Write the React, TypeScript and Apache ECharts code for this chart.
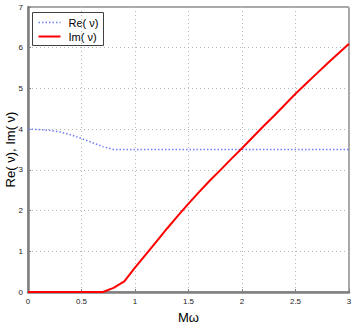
import React, { useEffect, useRef } from "react";
import * as echarts from "echarts";

const xRe = [0, 0.1, 0.2, 0.3, 0.4, 0.5, 0.6, 0.7, 0.8, 1.0, 1.5, 2.0, 2.5, 3.0];
const reValues = [4.0, 3.99, 3.97, 3.93, 3.86, 3.77, 3.67, 3.57, 3.5, 3.5, 3.5, 3.5, 3.5, 3.5];

const xIm = [0, 0.5, 0.7, 0.8, 0.9, 1.0, 1.1, 1.2, 1.3, 1.4, 1.5, 1.6, 1.7, 1.8, 1.9, 2.0, 2.1, 2.2, 2.3, 2.4, 2.5, 2.6, 2.7, 2.8, 2.9, 3.0];
const imValues = [0, 0, 0, 0.1, 0.26, 0.6, 0.92, 1.24, 1.56, 1.87, 2.17, 2.46, 2.74, 3.0, 3.27, 3.53, 3.8, 4.07, 4.33, 4.6, 4.87, 5.12, 5.37, 5.62, 5.86, 6.1];

const seriesNames = ["Re(\u00a0ν)", "Im(\u00a0ν)"];
const xLabel = "Mω";
const yLabel = "Re(\u00a0ν), Im(\u00a0ν)";

const FONT = "Liberation Sans, Arial, sans-serif";
const RE_COLOR = "#6f7ff5";
const IM_COLOR = "#ff0000";

export default function App() {
  const ref = useRef<HTMLDivElement>(null);
  useEffect(() => {
    if (!ref.current) return;
    const chart = echarts.init(ref.current, null, { renderer: "svg" });
    const gridLine = { show: true, lineStyle: { color: "#b4b4b4", width: 1, type: [1, 3] } };
    chart.setOption({
      animation: false,
      backgroundColor: "#ffffff",
      textStyle: { fontFamily: FONT },
      grid: {
        left: 28,
        right: 5,
        top: 7,
        bottom: 35,
        containLabel: false,
        outerBoundsMode: "none",
        show: true,
        borderColor: "#505050",
        borderWidth: 1,
        backgroundColor: "transparent",
      },
      graphic: [
        {
          type: "group",
          left: 32,
          top: 12,
          z: 100,
          children: [
            { type: "rect", shape: { x: 0, y: 0, width: 71, height: 33 }, style: { fill: "#fff", stroke: "#404040", lineWidth: 1 } },
            { type: "line", shape: { x1: 6, y1: 10, x2: 28, y2: 10 }, style: { stroke: RE_COLOR, lineWidth: 1.5, lineDash: [1.5, 2] } },
            { type: "text", x: 36, y: 10, style: { text: seriesNames[0], fontFamily: FONT, fontSize: 11, fill: "#000", verticalAlign: "middle" } },
            { type: "line", shape: { x1: 6, y1: 24, x2: 28, y2: 24 }, style: { stroke: IM_COLOR, lineWidth: 2 } },
            { type: "text", x: 36, y: 24, style: { text: seriesNames[1], fontFamily: FONT, fontSize: 11, fill: "#000", verticalAlign: "middle" } },
          ],
        },
      ],
      xAxis: {
        type: "value",
        min: 0,
        max: 3,
        interval: 0.5,
        name: xLabel,
        nameLocation: "middle",
        nameGap: 19,
        nameMoveOverlap: false,
        nameTextStyle: { fontFamily: FONT, fontSize: 13, color: "#000" },
        axisLine: { show: true, onZero: false, lineStyle: { color: "#808080", width: 2.5 } },
        axisTick: { show: true, inside: true, length: 3, lineStyle: { color: "#808080" } },
        axisLabel: { fontSize: 8, color: "#222", margin: 5, fontFamily: FONT },
        splitLine: gridLine,
      },
      yAxis: {
        type: "value",
        min: 0,
        max: 7,
        interval: 1,
        name: yLabel,
        nameLocation: "middle",
        nameGap: 11,
        nameMoveOverlap: false,
        nameTextStyle: { fontFamily: FONT, fontSize: 13, color: "#000" },
        axisLine: { show: true, onZero: false, lineStyle: { color: "#808080", width: 2.5 } },
        axisTick: { show: true, inside: true, length: 3, lineStyle: { color: "#808080" } },
        axisLabel: { fontSize: 8, color: "#222", margin: 5, fontFamily: FONT },
        splitLine: gridLine,
      },
      series: [
        {
          name: seriesNames[0],
          type: "line",
          data: xRe.map((x, i) => [x, reValues[i]]),
          symbol: "none",
          itemStyle: { color: RE_COLOR },
          lineStyle: { color: RE_COLOR, width: 1.5, type: [1.5, 2] },
          z: 3,
        },
        {
          name: seriesNames[1],
          type: "line",
          data: xIm.map((x, i) => [x, imValues[i]]),
          symbol: "none",
          itemStyle: { color: IM_COLOR },
          lineStyle: { color: IM_COLOR, width: 2 },
          z: 4,
        },
      ],
    });
    return () => chart.dispose();
  }, []);
  return <div ref={ref} style={{ width: 354, height: 327, position: "absolute", left: 0, top: 0 }} />;
}
